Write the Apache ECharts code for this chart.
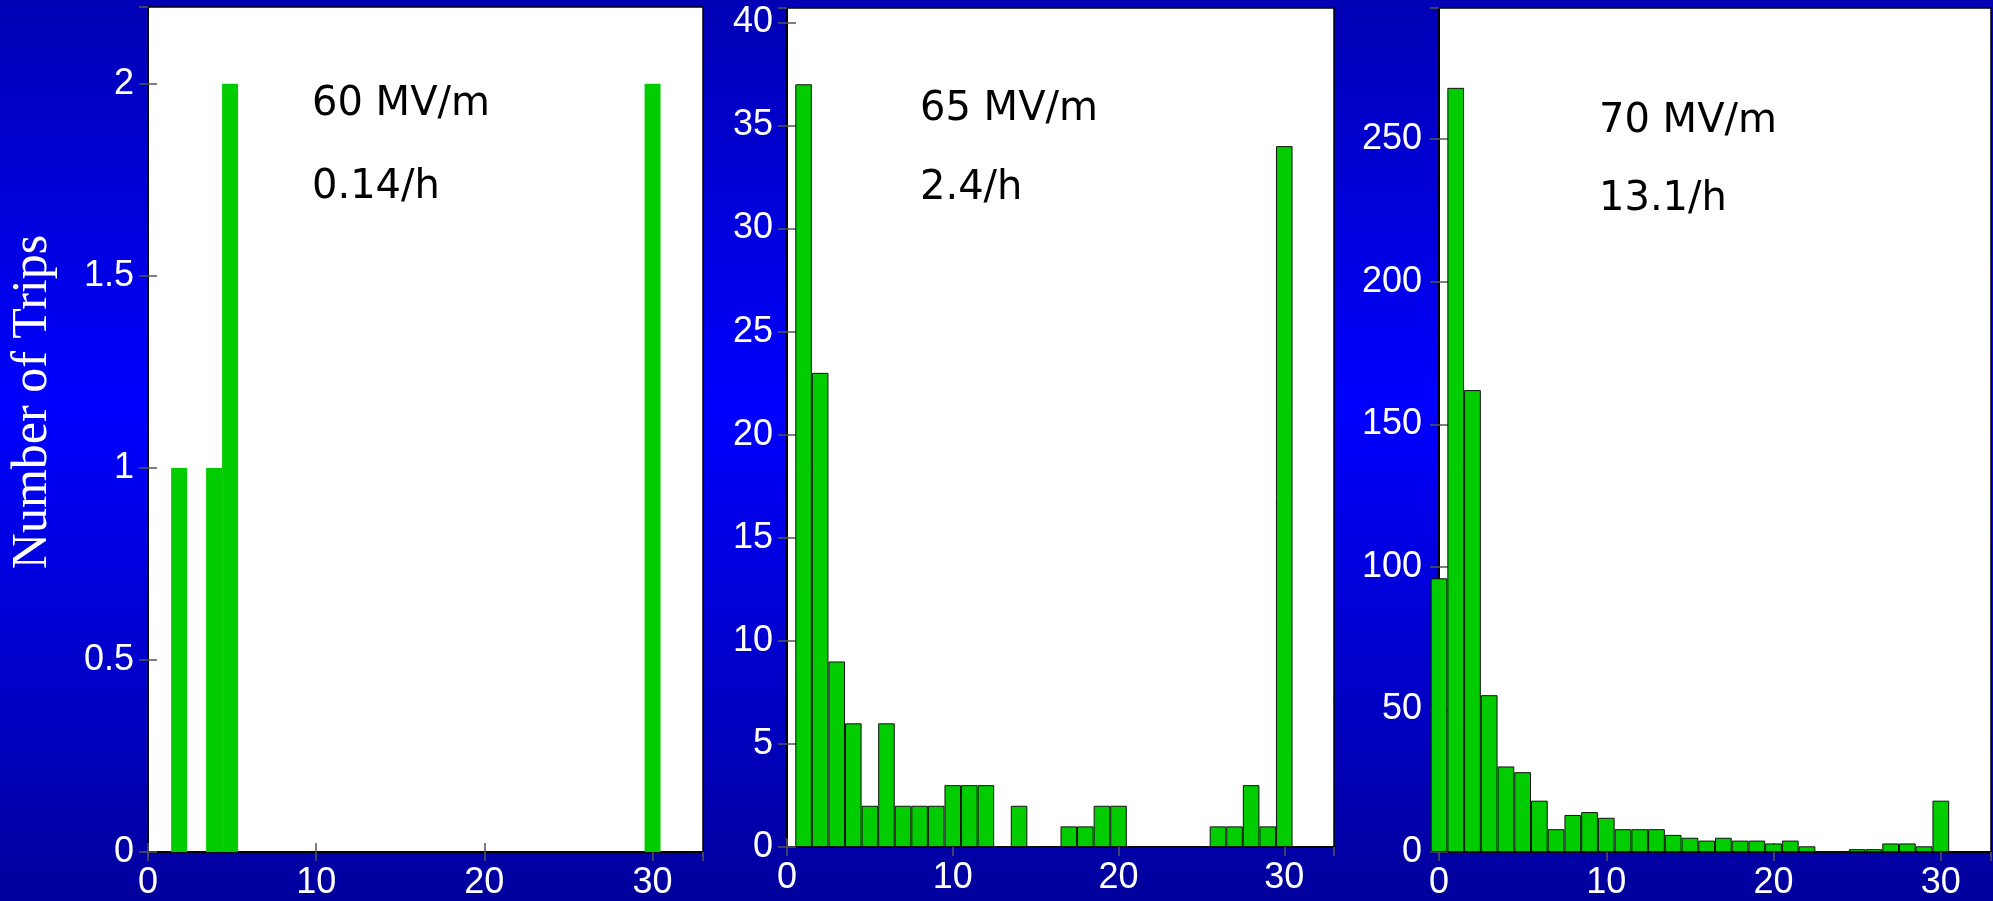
<!DOCTYPE html>
<html>
<head>
<meta charset="utf-8">
<title>Trips histograms</title>
<script src="https://cdn.jsdelivr.net/npm/echarts@6/dist/echarts.min.js"></script>
<style>
  html, body { margin: 0; padding: 0; }
  #chart { width: 1993px; height: 901px; }
</style>
</head>
<body>
<div id="chart"></div>
<script>
// 60 MV/m
var p1X = [1.85, 3.93, 4.88, 30]
var p1Count = [1, 1, 2, 2]
// 65 MV/m
var p2X = [1, 2, 3, 4, 5, 6, 7, 8, 9, 10, 11, 12, 13, 14, 15, 16, 17, 18, 19, 20, 21, 22, 23, 24, 25, 26, 27, 28, 29, 30]
var p2Count = [37, 23, 9, 6, 2, 6, 2, 2, 2, 3, 3, 3, 0, 2, 0, 0, 1, 1, 2, 2, 0, 0, 0, 0, 0, 1, 1, 3, 1, 34]
// 70 MV/m
var p3X = [0, 1, 2, 3, 4, 5, 6, 7, 8, 9, 10, 11, 12, 13, 14, 15, 16, 17, 18, 19, 20, 21, 22, 23, 24, 25, 26, 27, 28, 29, 30]
var p3Count = [96, 268, 162, 55, 30, 28, 18, 8, 13, 14, 12, 8, 8, 8, 6, 5, 4, 5, 4, 4, 3, 4, 2, 0, 0, 1, 1, 3, 3, 2, 18]

var panelLabels = [['60 MV/m', '0.14/h'], ['65 MV/m', '2.4/h'], ['70 MV/m', '13.1/h']]
var yMax = [2.2, 40.7, 296]
var yStep = [0.5, 5, 50]
var xTicks = { min: 0, max: 33, interval: 10 }

var chart = echarts.init(document.getElementById('chart'))

var grids = [
  { left: 148, top: 7, width: 555, height: 846 },
  { left: 787, top: 8, width: 547, height: 839 },
  { left: 1439, top: 8, width: 552, height: 844 }
]

function pairs(xs, ys) {
  var out = []
  for (var i = 0; i < xs.length; i++) out.push([xs[i], ys[i]])
  return out
}

var labelFont = { color: '#fff', fontSize: 36, fontFamily: 'Liberation Sans, Arial, sans-serif' }
var tickStyle = { show: true, inside: true, length: 9, lineStyle: { color: '#555', width: 1.5 } }

var xAxes = []
var yAxes = []
var series = []
var seriesData = [pairs(p1X, p1Count), pairs(p2X, p2Count), pairs(p3X, p3Count)]

grids.forEach(function(g, i) {
  g.show = true
  g.backgroundColor = '#fff'
  g.borderColor = '#000'
  g.borderWidth = 1.5
  g.containLabel = false

  xAxes.push({
    type: 'value', gridIndex: i, position: 'bottom',
    min: xTicks.min, max: xTicks.max, interval: xTicks.interval,
    axisLine: { show: true, lineStyle: { color: '#000', width: 2 } },
    axisTick: tickStyle,
    splitLine: { show: false },
    axisLabel: Object.assign({ margin: 13, showMaxLabel: false }, labelFont)
  })
  xAxes.push({
    type: 'value', gridIndex: i, position: 'top',
    min: xTicks.min, max: xTicks.max, interval: xTicks.interval,
    axisLine: { show: true, lineStyle: { color: '#000', width: 1.5 } },
    axisTick: tickStyle,
    splitLine: { show: false },
    axisLabel: { show: false }
  })
  yAxes.push({
    type: 'value', gridIndex: i, position: 'left',
    min: 0, max: yMax[i], interval: yStep[i],
    axisLine: { show: true, lineStyle: { color: '#000', width: 2 } },
    axisTick: tickStyle,
    splitLine: { show: false },
    axisLabel: Object.assign({ margin: i === 2 ? 17 : 14, showMaxLabel: false }, labelFont)
  })
  yAxes.push({
    type: 'value', gridIndex: i, position: 'right',
    min: 0, max: yMax[i], interval: yStep[i],
    axisLine: { show: true, lineStyle: { color: '#000', width: 1.5 } },
    axisTick: tickStyle,
    splitLine: { show: false },
    axisLabel: { show: false }
  })

  series.push({
    type: 'bar',
    xAxisIndex: i * 2,
    yAxisIndex: i * 2,
    data: seriesData[i],
    barWidth: '100%',
    clip: i !== 2,
    silent: true,
    itemStyle: {
      color: '#00cc00',
      borderColor: i === 0 ? '#00cc00' : '#111',
      borderWidth: i === 0 ? 0 : 1
    },
    animation: false
  })
})

var annoFont = '40px "Comic Sans MS", "DejaVu Sans", sans-serif'
var annoPos = [[312, 105, 188], [920, 110, 189], [1599, 122, 200]]
var graphics = [{
  type: 'text',
  x: 33, y: 402,
  rotation: Math.PI / 2,
  style: {
    text: 'Number of Trips',
    fill: '#fff',
    font: '50px "Liberation Serif", "Times New Roman", serif',
    textAlign: 'center',
    textVerticalAlign: 'middle'
  }
}]
panelLabels.forEach(function(lines, i) {
  graphics.push({
    type: 'text', x: annoPos[i][0], y: annoPos[i][1], z: 10,
    style: { text: lines[0], fill: '#000', font: annoFont, textAlign: 'left', textVerticalAlign: 'middle' }
  })
  graphics.push({
    type: 'text', x: annoPos[i][0], y: annoPos[i][2], z: 10,
    style: { text: lines[1], fill: '#000', font: annoFont, textAlign: 'left', textVerticalAlign: 'middle' }
  })
})

chart.setOption({
  animation: false,
  backgroundColor: {
    type: 'linear', x: 0, y: 0, x2: 0, y2: 1,
    colorStops: [
      { offset: 0, color: '#0000b4' },
      { offset: 0.45, color: '#0000ff' },
      { offset: 1, color: '#00009c' }
    ]
  },
  grid: grids,
  xAxis: xAxes,
  yAxis: yAxes,
  series: series,
  graphic: graphics
})
</script>
</body>
</html>
